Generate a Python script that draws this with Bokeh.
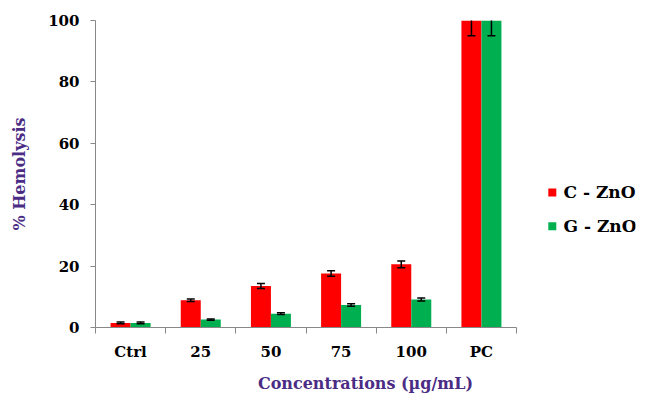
from bokeh.plotting import figure
from bokeh.models import Range1d, FixedTicker, ColumnDataSource, Whisker, TeeHead
from bokeh.core.properties import value
from bokeh.embed import file_html
from bokeh.resources import INLINE

categories = ["Ctrl", "25", "50", "75", "100", "PC"]
c_zno = [1.5, 8.9, 13.5, 17.6, 20.6, 100.0]
c_err = [0.3, 0.4, 0.8, 0.9, 1.1, 5.0]
g_zno = [1.5, 2.6, 4.5, 7.3, 9.1, 100.0]
g_err = [0.3, 0.2, 0.3, 0.4, 0.5, 5.0]
series_names = ["C - ZnO", "G - ZnO"]
colors = ["#FF0000", "#00B050"]
yticks = [0, 20, 40, 60, 80, 100]

FONT = "DejaVu Serif"
PURPLE = "#4B2C85"

W, H = 637, 395
left, top, right = 95, 20, 2
bottom = H - 327
frame_w = W - left - right
unit = 70.17
p = figure(width=W, height=H, output_backend="svg", toolbar_location=None,
           x_range=Range1d(0, frame_w / unit), y_range=Range1d(0, 100),
           min_border_left=left, min_border_right=right, min_border_top=top,
           min_border_bottom=bottom)
p.outline_line_color = None
p.grid.visible = False

bw = 0.285
xs = [i + 0.5 for i in range(len(categories))]
for k, (vals, errs) in enumerate([(c_zno, c_err), (g_zno, g_err)]):
    off = -bw / 2 if k == 0 else bw / 2
    bx = [x + off for x in xs]
    src = ColumnDataSource(dict(x=bx, top=vals,
                                up=[v + e for v, e in zip(vals, errs)],
                                lo=[v - e for v, e in zip(vals, errs)]))
    p.vbar(x="x", top="top", width=bw, bottom=0, source=src,
           fill_color=colors[k], line_color=None)
    w = Whisker(base="x", upper="up", lower="lo", source=src, line_color="black",
                line_width=1.5, level="overlay",
                upper_head=TeeHead(size=8, line_color="black", line_width=1.5),
                lower_head=TeeHead(size=8, line_color="black", line_width=1.5))
    p.add_layout(w)

# legend drawn inside the frame area to the right
leg_y = [44, 33]
p.scatter(x=[6.51, 6.51], y=leg_y, marker="square", size=8, color=colors,
          line_color=None)
p.text(x=[6.67, 6.67], y=leg_y, text=series_names, text_font=value(FONT),
       text_font_style="bold", text_font_size="17px", text_baseline="middle",
       text_color="black")

# axes
xa = p.xaxis[0]
xa.bounds = (0, 6)
xa.ticker = FixedTicker(ticks=xs, minor_ticks=list(range(7)))
xa.major_label_overrides = {x: c for x, c in zip(xs, categories)}
xa.major_tick_line_color = None
xa.major_tick_out = 6
xa.minor_tick_line_color = "#888888"
xa.minor_tick_out = 6
xa.minor_tick_in = 0
xa.axis_line_color = "#888888"
xa.major_label_standoff = 9
xa.axis_label = "Concentrations (µg/mL)"
xa.axis_label_standoff = 10

ya = p.yaxis[0]
ya.bounds = (0, 100)
ya.ticker = FixedTicker(ticks=yticks)
ya.minor_tick_line_color = None
ya.major_tick_line_color = "#888888"
ya.major_tick_out = 5
ya.major_tick_in = 0
ya.axis_line_color = "#888888"
ya.major_label_standoff = 11
ya.axis_label = "% Hemolysis"
ya.axis_label_standoff = 16

for ax in (xa, ya):
    ax.major_label_text_font = FONT
    ax.major_label_text_font_style = "bold"
    ax.major_label_text_font_size = "15px"
    ax.major_label_text_color = "black"
    ax.axis_label_text_font = FONT
    ax.axis_label_text_font_style = "bold"
    ax.axis_label_text_font_size = "16px"
    ax.axis_label_text_color = PURPLE

open("out.html", "w").write(file_html(p, INLINE))
